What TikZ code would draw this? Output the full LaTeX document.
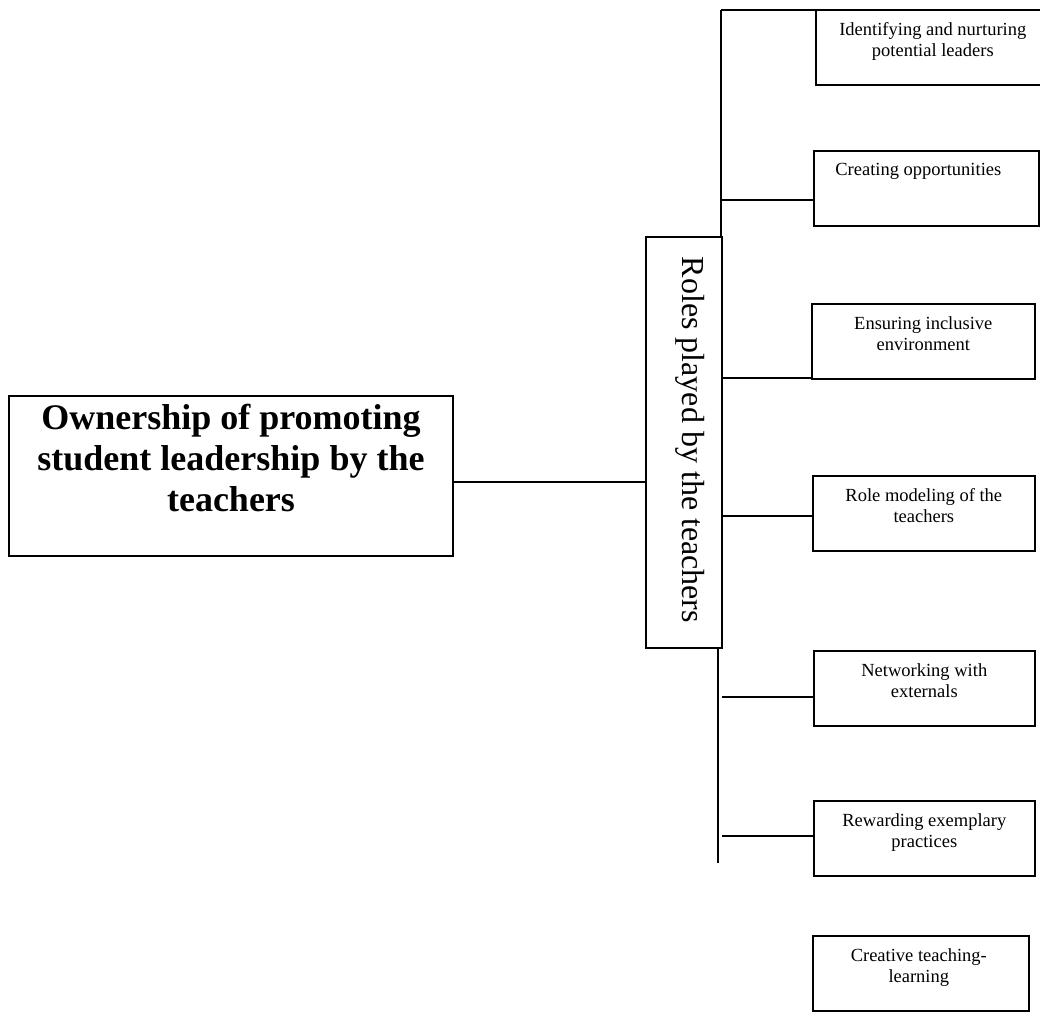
\documentclass[tikz,border=0pt]{standalone}
\usepackage{fontspec}
\setmainfont{Liberation Serif}
\usetikzlibrary{positioning}

\tikzset{
  frame/.style={draw, line width=1.6pt, inner sep=0pt, anchor=north west},
  roletext/.style={font=\fontsize{18.5}{21.5}\selectfont, align=center, inner sep=0pt},
  link/.style={line width=1.6pt}
}

\begin{document}
\begin{tikzpicture}[x=1pt, y=-1pt]
\useasboundingbox (0,0) rectangle (1040,1025);
\clip (0,0) rectangle (1040,1025);

% main box
\node[frame, minimum width=444pt, minimum height=160pt] (own) at (8,395) {};
\node[font=\bfseries\fontsize{36}{41}\selectfont, align=center, inner sep=0pt] (owntext) at (231,458)
  {Ownership of promoting\\student leadership by the\\teachers};

% roles box
\node[frame, minimum width=76pt, minimum height=411pt] (roles) at (645,236) {};
\node[font=\fontsize{32}{36}\selectfont, rotate=-90, inner sep=0pt] (rolestext) at (690,440)
  {Roles played by the teachers};

% role boxes
\foreach \n/\x/\y/\w/\dx/\t in {
  b1/815/9/234/0/{Identifying and nurturing\\potential leaders},
  b2/813/150/225/-8/{Creating opportunities},
  b3/811/303/223/0/{Ensuring inclusive\\environment},
  b4/812/475/222/0/{Role modeling of the\\teachers},
  b5/813/650/221/0/{Networking with\\externals},
  b6/813/800/221/0/{Rewarding exemplary\\practices},
  b7/812/935/216/-2/{Creative teaching-\\learning}}
{
  \node[frame, minimum width=\w pt, minimum height=75pt] (\n) at (\x,\y) {};
  \node[roletext, below=13pt of \n.north, xshift=\dx pt] (\n text) {\t};
}

% connectors
\coordinate (oc) at (452,482);
\draw[link] (oc) -- (oc -| roles.west);

\coordinate (toptrunk) at (721,10);
\coordinate (bottrunk) at (718,863);
\draw[link] (toptrunk) -- (toptrunk |- roles.north);
\draw[link] (bottrunk |- roles.south) -- (bottrunk);

\foreach \n/\y/\xs in {b1/10/721, b2/200/721, b3/378/721, b4/516/721, b5/697/722, b6/836/722}
{
  \coordinate (c\n) at (\xs,\y);
  \draw[link] (c\n) -- (c\n -| \n.west);
}
\end{tikzpicture}
\end{document}
